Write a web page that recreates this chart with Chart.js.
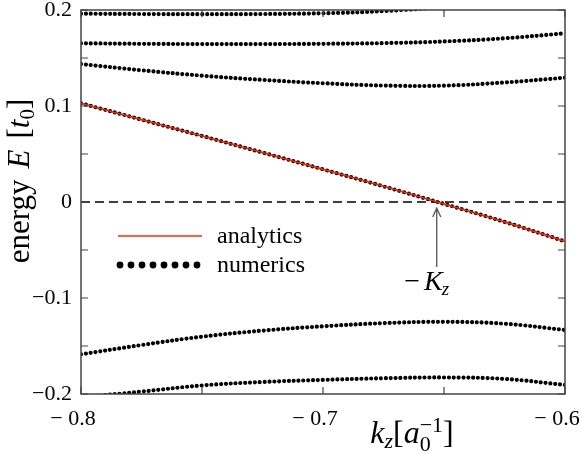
<!DOCTYPE html>
<html>
<head>
<meta charset="utf-8">
<script src="https://cdn.jsdelivr.net/npm/chart.js@4.4.0/dist/chart.umd.min.js"></script>
<style>
    html, body { margin: 0; padding: 0; background: #fff; }
</style>
</head>
<body>
<canvas id="grafica" width="581" height="454"></canvas>
<script>
// Valores de k_z donde se leen las bandas
var kz = [-0.8, -0.775, -0.75, -0.725, -0.7, -0.675, -0.65, -0.625, -0.6];

// Bandas numéricas
var banda1 = [0.1962, 0.1958, 0.1956, 0.1958, 0.1966, 0.1988, 0.2035, 0.2100, 0.2180];
var banda2 = [0.1653, 0.1648, 0.1645, 0.1645, 0.1648, 0.1655, 0.1672, 0.1705, 0.1757];
var banda3 = [0.1437, 0.1372, 0.1316, 0.1272, 0.1237, 0.1213, 0.1212, 0.1245, 0.1295];
var banda4 = [0.1028, 0.0858, 0.0688, 0.0515, 0.0340, 0.0163, -0.0020, -0.0207, -0.0410];
var banda5 = [-0.1587, -0.1490, -0.1403, -0.1340, -0.1295, -0.1262, -0.1248, -0.1268, -0.1333];
var banda6 = [-0.2035, -0.1975, -0.1911, -0.1875, -0.1853, -0.1836, -0.1828, -0.1843, -0.1906];

// Solución analítica (coincide con la banda lineal)
var analitica = [0.1028, 0.0858, 0.0688, 0.0515, 0.0340, 0.0163, -0.0020, -0.0207, -0.0410];

// Línea de energía cero
var kzCero = [-0.8, -0.6];
var energiaCero = [0, 0];

// Etiquetas de los ejes
var xEtiquetas = [-0.8, -0.7, -0.6];
var yEtiquetas = [-0.2, -0.1, 0, 0.1, 0.2];

// Posición de -K_z
var menosKz = -0.653;

var serif = "'Liberation Serif', 'DejaVu Serif', serif";
Chart.defaults.font.family = serif;

function puntos(xs, ys) {
    return xs.map(function (x, i) { return { x: x, y: ys[i] }; });
}

function enLista(v, lista) {
    return lista.some(function (t) { return Math.abs(t - v) < 1e-6; });
}

function bandaPunteada(ys, hueco) {
    return {
        label: 'numerics',
        data: puntos(kz, ys),
        borderColor: '#000',
        borderWidth: 4.2,
        borderDash: [0, hueco],
        borderCapStyle: 'round',
        pointRadius: 0,
        tension: 0.4,
        fill: false,
        clip: 0,
        order: 2
    };
}

// Dibuja texto con partes en cursiva, subíndices y superíndices
function textoCompuesto(ctx, partes, x, y) {
    var ancho = 0;
    partes.forEach(function (p) {
        ctx.font = p.f;
        p.w = ctx.measureText(p.t).width;
        if (!p.apilar) ancho += p.w + (p.extra || 0);
    });
    var cx = x - ancho / 2;
    var previo = 0;
    partes.forEach(function (p) {
        ctx.font = p.f;
        ctx.fillText(p.t, cx, y + (p.dy || 0));
        if (p.apilar) {
            previo = p.w;
        } else {
            cx += Math.max(p.w, previo) + (p.extra || 0);
            previo = 0;
        }
    });
}

var marcoYAnotaciones = {
    id: 'marcoYAnotaciones',
    afterDatasetsDraw: function (chart) {
        var ctx = chart.ctx;
        var area = chart.chartArea;
        var ex = chart.scales.x;
        var ey = chart.scales.y;
        ctx.save();
        ctx.strokeStyle = '#444';
        ctx.lineWidth = 1.5;
        ctx.strokeRect(area.left, area.top, area.right - area.left, area.bottom - area.top);
        ctx.lineWidth = 1.2;
        ctx.beginPath();
        ex.ticks.forEach(function (t) {
            var px = ex.getPixelForValue(t.value);
            ctx.moveTo(px, area.bottom); ctx.lineTo(px, area.bottom - 7);
            ctx.moveTo(px, area.top); ctx.lineTo(px, area.top + 7);
        });
        ey.ticks.forEach(function (t) {
            var py = ey.getPixelForValue(t.value);
            ctx.moveTo(area.left, py); ctx.lineTo(area.left + 7, py);
            ctx.moveTo(area.right, py); ctx.lineTo(area.right - 7, py);
        });
        ctx.stroke();
        ctx.restore();
    },
    afterDraw: function (chart) {
        var ctx = chart.ctx;
        var ex = chart.scales.x;
        var ey = chart.scales.y;
        ctx.save();
        ctx.fillStyle = '#000';
        ctx.textBaseline = 'alphabetic';
        ctx.textAlign = 'left';

        // Leyenda
        ctx.strokeStyle = '#ff2a0a';
        ctx.lineWidth = 1.5;
        ctx.beginPath();
        ctx.moveTo(118, 236); ctx.lineTo(202, 236);
        ctx.stroke();
        for (var i = 0; i < 8; i++) {
            ctx.beginPath();
            ctx.arc(120 + i * 11, 265, 3.4, 0, Math.PI * 2);
            ctx.fill();
        }
        ctx.font = '24px ' + serif;
        ctx.fillText('analytics', 217, 243);
        ctx.fillText('numerics', 217, 272);

        // Flecha hacia -K_z
        var ax = ex.getPixelForValue(menosKz);
        var ay = ey.getPixelForValue(0);
        ctx.strokeStyle = '#555';
        ctx.lineWidth = 1.3;
        ctx.beginPath();
        ctx.moveTo(ax, 267); ctx.lineTo(ax, ay + 6);
        ctx.moveTo(ax - 4, ay + 15); ctx.lineTo(ax, ay + 6); ctx.lineTo(ax + 4, ay + 15);
        ctx.stroke();
        textoCompuesto(ctx, [
            { t: '\u2212', f: '28px ' + serif, extra: 4 },
            { t: 'K', f: 'italic 28px ' + serif, extra: -1 },
            { t: 'z', f: 'italic 19px ' + serif, dy: 5 }
        ], ax - 10, 290);

        // Título eje x
        textoCompuesto(ctx, [
            { t: 'k', f: 'italic 32px ' + serif },
            { t: 'z', f: 'italic 22px ' + serif, dy: 5 },
            { t: '[', f: '32px ' + serif },
            { t: 'a', f: 'italic 32px ' + serif },
            { t: '0', f: '22px ' + serif, dy: 8, apilar: true },
            { t: '\u22121', f: '22px ' + serif, dy: -11 },
            { t: ']', f: '32px ' + serif }
        ], 412, 443);

        // Título eje y
        ctx.translate(19, 181);
        ctx.rotate(-Math.PI / 2);
        textoCompuesto(ctx, [
            { t: 'energy', f: '31px ' + serif, extra: 11 },
            { t: 'E', f: 'italic 31px ' + serif, extra: 11 },
            { t: '[', f: '31px ' + serif },
            { t: 't', f: 'italic 31px ' + serif },
            { t: '0', f: '21px ' + serif, dy: 5 },
            { t: ']', f: '31px ' + serif }
        ], 0, 10);
        ctx.restore();
    }
};

var ctx = document.getElementById('grafica').getContext('2d');
var grafica = new Chart(ctx, {
    type: 'line',
    data: {
        datasets: [
            {
                label: 'analytics',
                data: puntos(kz, analitica),
                borderColor: '#f0280a',
                borderWidth: 1.6,
                pointRadius: 0,
                tension: 0.4,
                fill: false,
                order: 0
            },
            {
                label: 'cero',
                data: puntos(kzCero, energiaCero),
                borderColor: '#000',
                borderWidth: 1.5,
                borderDash: [9, 5],
                pointRadius: 0,
                fill: false,
                order: 3
            },
            bandaPunteada(banda1, 4.85),
            bandaPunteada(banda2, 4.85),
            bandaPunteada(banda3, 4.85),
            bandaPunteada(banda4, 5.0),
            bandaPunteada(banda5, 4.85),
            bandaPunteada(banda6, 4.85)
        ]
    },
    options: {
        responsive: false,
        animation: false,
        devicePixelRatio: 1,
        layout: { padding: { left: 0, right: 16, top: 10, bottom: 0 } },
        plugins: {
            legend: { display: false },
            tooltip: { enabled: false }
        },
        scales: {
            x: {
                type: 'linear',
                min: -0.8,
                max: -0.6,
                grid: { display: false, drawTicks: false },
                border: { display: false },
                afterFit: function (scale) {
                    scale.height = 60;
                    scale.paddingLeft = 0;
                    scale.paddingRight = 0;
                },
                ticks: {
                    stepSize: 0.05,
                    autoSkip: false,
                    maxRotation: 0,
                    padding: 12,
                    labelOffset: -8,
                    color: '#000',
                    font: { family: serif, size: 22 },
                    callback: function (v) {
                        if (!enLista(v, xEtiquetas)) return '';
                        return '\u2212 ' + Math.abs(v).toFixed(1);
                    }
                }
            },
            y: {
                type: 'linear',
                min: -0.2,
                max: 0.2,
                grid: { display: false, drawTicks: false },
                border: { display: false },
                afterFit: function (scale) {
                    scale.width = 81;
                    scale.paddingTop = 0;
                    scale.paddingBottom = 0;
                },
                ticks: {
                    stepSize: 0.05,
                    autoSkip: false,
                    padding: 9,
                    color: '#000',
                    font: { family: serif, size: 22 },
                    callback: function (v) {
                        if (!enLista(v, yEtiquetas)) return '';
                        if (Math.abs(v) < 1e-9) return '0';
                        return (v < 0 ? '\u2212' : '') + Math.abs(v).toFixed(1);
                    }
                }
            }
        }
    },
    plugins: [marcoYAnotaciones]
});
</script>
</body>
</html>
